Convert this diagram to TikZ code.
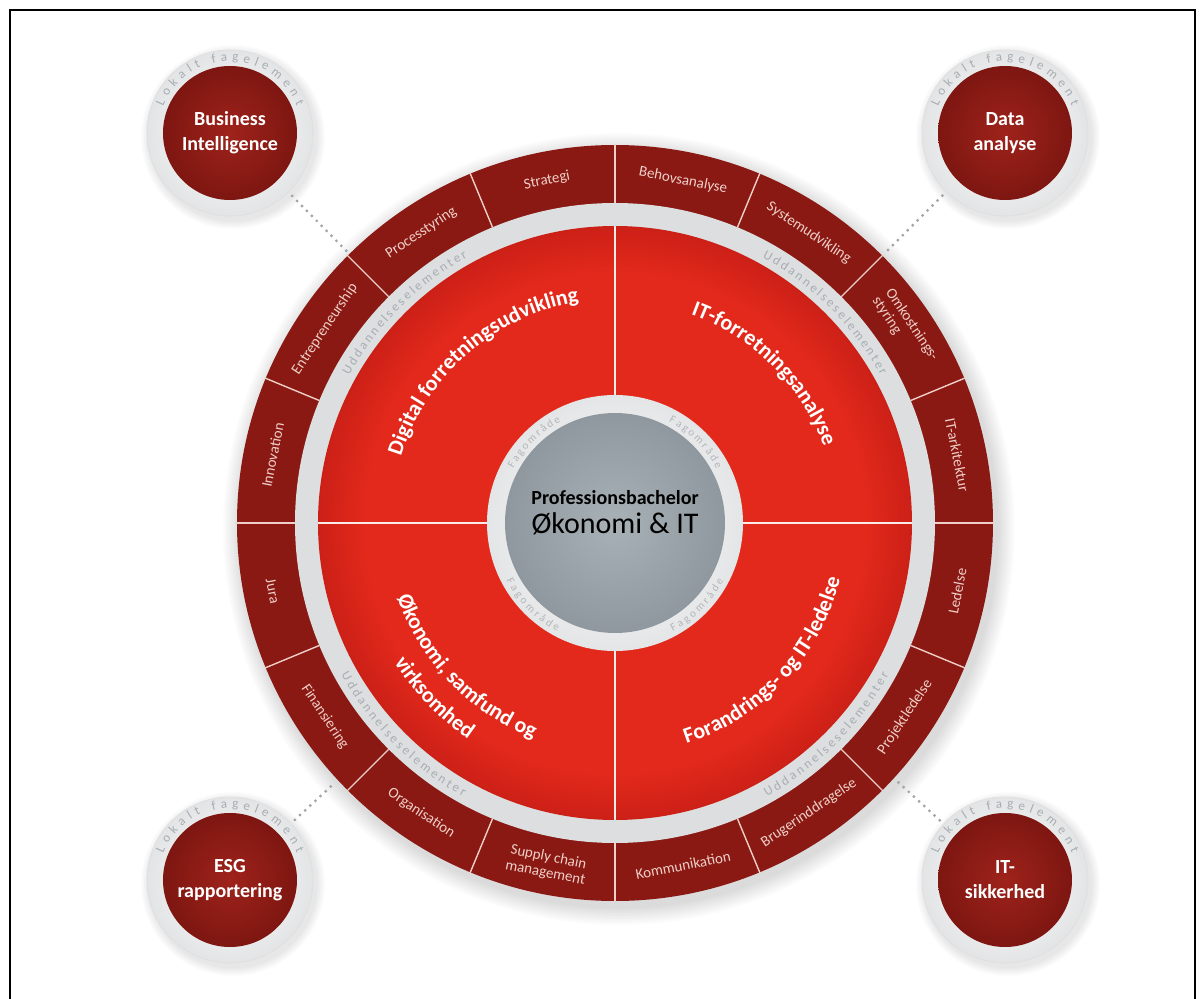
\documentclass[tikz,border=0pt]{standalone}
\usepackage{fontspec}
\setmainfont{Carlito}
\usetikzlibrary{positioning,calc,decorations.text}
\definecolor{ringred}{HTML}{8A1913}
\definecolor{quadred}{HTML}{E3291C}
\definecolor{quadredd}{HTML}{CC2017}
\definecolor{bandgray}{HTML}{DCDEDF}
\definecolor{labelpink}{HTML}{EFCFC8}
\definecolor{uddgray}{HTML}{A7ADB1}
\definecolor{faggray}{HTML}{B3B6B8}
\definecolor{coregray}{HTML}{8F989E}
\definecolor{coregrayl}{HTML}{A8B1B6}
\definecolor{ringwhite}{HTML}{E4E5E6}
\definecolor{satred}{HTML}{7E1611}
\definecolor{satredl}{HTML}{9E231B}
\definecolor{satgray}{HTML}{E3E4E5}
\definecolor{dotgray}{HTML}{A2A6A9}
\pgfdeclareradialshading{quadshade}{\pgfpoint{0bp}{0bp}}{color(0bp)=(quadred); color(21bp)=(quadred); color(25bp)=(quadredd); color(50bp)=(quadredd)}
\newcommand\quadfont{\bfseries\fontsize{22}{22}\selectfont\color{white}}
\newcommand\uddfont{\fontsize{13}{13}\selectfont\color{uddgray}}
\newcommand\fagfont{\fontsize{11}{11}\selectfont\color{faggray}}
\newcommand\lokfont{\fontsize{13}{13}\selectfont\color{uddgray}}
\begin{document}
\begin{tikzpicture}[x=1pt, y=1pt]
\tikzstyle{seglabel}=[text=labelpink, font=\fontsize{15}{16}\selectfont, inner sep=0pt, align=center]
\tikzstyle{divline}=[draw=labelpink, line width=1.4pt]
\tikzstyle{satring}=[circle, minimum size=166pt, inner sep=0pt, inner color=white, outer color=satgray, draw=black!12, line width=1pt]
\tikzstyle{satcore}=[circle, minimum size=134pt, inner sep=0pt, text=white, font=\bfseries\fontsize{20}{25}\selectfont, align=center, inner color=satredl, outer color=satred]
\tikzstyle{dotline}=[draw=dotgray, line width=3.2pt, line cap=round, dash pattern=on 0pt off 7pt, shorten <=5pt, shorten >=3pt]
\useasboundingbox (-615,-476) rectangle (588,523);
\node[anchor=base west, inner sep=0pt, font=\fontsize{28}{30}\selectfont] (caption) at (-461,527.5) {Rapportering};
\draw[line width=1.8pt] (-605,-500) rectangle (580,513);
\foreach \i in {1,...,12}
  \fill[black, opacity=0.012] (4pt,-6pt) circle[radius={378pt+1.5pt*\i}];
\node[circle, minimum size=756pt, inner sep=0pt] (hub) at (0,0) {};
\fill[ringred] (0,0) circle[radius=378pt];
\fill[bandgray] (0,0) circle[radius=320pt];
\shade[shading=quadshade] (0,0) circle[radius=297pt];
\foreach \a in {0,90,180,270}
  \draw[divline, draw=white!90!quadred] (\a:127pt) -- (\a:297pt);
\foreach \a in {0,22.5,...,337.5}
  \draw[divline] (\a:320pt) -- (\a:379pt);
\shade[inner color=white, outer color=ringwhite] (0,0) circle[radius=128pt];
\shade[inner color=coregrayl, outer color=coregray] (0,0) circle[radius=110pt];
\node[font=\bfseries\fontsize{20}{24}\selectfont] (prof) at (0,25) {Professionsbachelor};
\node[font=\fontsize{30}{36}\selectfont, below=1pt of prof] (okit) {Økonomi \& IT};
\foreach \a/\t [count=\i] in {101.25/Strategi, 123.75/Processtyring, 146.25/Entrepreneurship, 168.75/Innovation, 78.75/Behovsanalyse, 56.25/Systemudvikling, 11.25/IT-arkitektur}
  \node[seglabel, rotate=\a-90] (top\i) at (\a:349pt) {\t};
\node[seglabel, rotate=-56.25, align=left] (top8) at (33.75:349pt) {Omkostnings-\\styring};
\foreach \a/\t [count=\i] in {191.25/Jura, 213.75/Finansiering, 236.25/Organisation, 258.75/{Supply chain\\management}, 281.25/Kommunikation, 303.75/Brugerinddragelse, 326.25/Projektledelse, 348.75/Ledelse}
  \node[seglabel, rotate=\a+90] (bot\i) at (\a:349pt) {\t};
\foreach \c in {135,45}
  \path[decorate, decoration={text along path, text align={fit to path}, text={|\uddfont|Uddannelseselementer}}] (\c+16:304pt) arc[start angle=\c+16, end angle=\c-16, radius=304pt];
\foreach \c in {225,315}
  \path[decorate, decoration={text along path, text align={fit to path}, text={|\uddfont|Uddannelseselementer}}] (\c-16:313pt) arc[start angle=\c-16, end angle=\c+16, radius=313pt];
\foreach \c in {135,45}
  \path[decorate, decoration={text along path, text align={fit to path}, text={|\fagfont|Fagområde}}] (\c+17:115pt) arc[start angle=\c+17, end angle=\c-17, radius=115pt];
\foreach \c in {225,315}
  \path[decorate, decoration={text along path, text align={fit to path}, text={|\fagfont|Fagområde}}] (\c-17:123pt) arc[start angle=\c-17, end angle=\c+17, radius=123pt];
\path[decorate, decoration={text along path, text align=center, text={|\quadfont|Digital forretningsudvikling}}] (176:224pt) arc[start angle=176, end angle=86, radius=224pt];
\path[decorate, decoration={text along path, text align=center, text={|\quadfont|IT-forretningsanalyse}}] (90:222pt) arc[start angle=90, end angle=0, radius=222pt];
\path[decorate, decoration={text along path, text align=center, text={|\quadfont|Økonomi, samfund og}}] (179:230pt) arc[start angle=179, end angle=269, radius=230pt];
\path[decorate, decoration={text along path, text align=center, text={|\quadfont|virksomhed}}] (179:261pt) arc[start angle=179, end angle=269, radius=261pt];
\path[decorate, decoration={text along path, text align=center, text={|\quadfont|Forandrings- og IT-ledelse}}] (272:232pt) arc[start angle=272, end angle=362, radius=232pt];
\foreach \x/\y in {-385/390, 390/390, -385/-357, 390/-357}
  \foreach \i in {1,...,6}
    \fill[black, opacity=0.015] (\x+3,\y-4) circle[radius={83pt+1.5pt*\i}];
\node[satring] (bi)    at (-385,390)  {};
\node[satring] (data)  at (390,390)   {};
\node[satring] (esg)   at (-385,-357) {};
\node[satring] (itsik) at (390,-357)  {};
\foreach \n in {bi,data,esg,itsik}
  \draw[dotline] (\n) -- (hub);
\node[satcore] (bitxt)    at (bi)    {Business\\Intelligence};
\node[satcore] (datatxt)  at (data)  {Data\\analyse};
\node[satcore] (esgtxt)   at (esg)   {ESG\\rapportering};
\node[satcore] (itsiktxt) at (itsik) {IT-\\sikkerhed};
\foreach \n in {bi,data,esg,itsik}
  \path[decorate, decoration={text along path, text align={fit to path}, text={|\lokfont|Lokalt fagelement}}] ($(\n)+(158:72pt)$) arc[start angle=158, end angle=22, radius=72pt];
\end{tikzpicture}
\end{document}
